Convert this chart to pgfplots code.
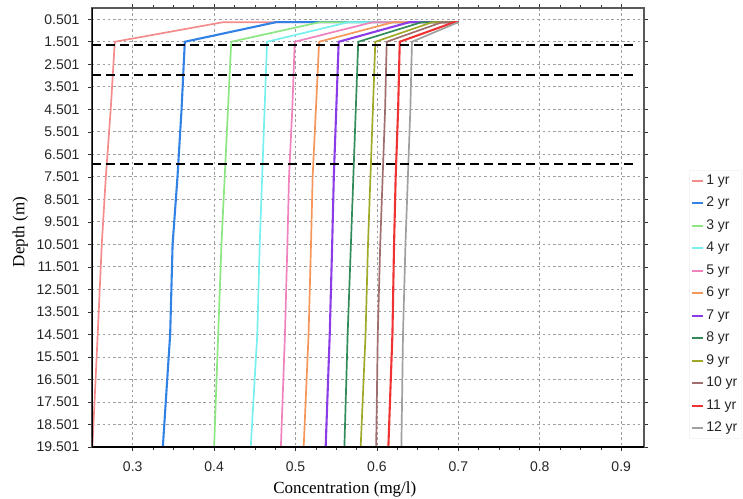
\documentclass[border=0pt]{standalone}
\usepackage{fontspec}
\setmainfont{Liberation Sans}
\newfontfamily\timesf{Liberation Serif}
\usepackage{pgfplots}
\pgfplotsset{compat=1.18}
\definecolor{c1}{RGB}{245,140,140}
\definecolor{c2}{RGB}{50,130,230}
\definecolor{c3}{RGB}{140,230,130}
\definecolor{c4}{RGB}{120,240,240}
\definecolor{c5}{RGB}{240,130,190}
\definecolor{c6}{RGB}{245,150,90}
\definecolor{c7}{RGB}{140,60,230}
\definecolor{c8}{RGB}{50,140,90}
\definecolor{c9}{RGB}{160,170,40}
\definecolor{c10}{RGB}{160,110,110}
\definecolor{c11}{RGB}{240,50,50}
\definecolor{c12}{RGB}{160,160,160}
\begin{document}
\begin{tikzpicture}
\begin{axis}[
  at={(0,0)}, anchor=south west,
  scale only axis, width=552bp, height=439bp,
  xmin=0.25, xmax=0.928, ymin=0, ymax=19.501,
  y dir=reverse,
  /pgf/number format/assume math mode=true,
  xtick={0.3,0.4,0.5,0.6,0.7,0.8,0.9},
  xticklabels={0.3,0.4,0.5,0.6,0.7,0.8,0.9},
  minor x tick num=3,
  ytick={0.501,1.501,2.501,3.501,4.501,5.501,6.501,7.501,8.501,9.501,10.501,11.501,12.501,13.501,14.501,15.501,16.501,17.501,18.501,19.501},
  yticklabels={0.501,1.501,2.501,3.501,4.501,5.501,6.501,7.501,8.501,9.501,10.501,11.501,12.501,13.501,14.501,15.501,16.501,17.501,18.501,19.501},
  tick align=outside,
  major tick length=4bp, minor tick length=3bp,
  every tick/.style={black!80, line width=0.6bp},
  ticklabel style={font=\fontsize{14bp}{16bp}\selectfont, text=black!85},
  xticklabel style={yshift=-7bp},
  yticklabel style={xshift=-5bp},
  grid=major,
  major grid style={gray!75, dash pattern=on 2.5bp off 2.8bp, line width=0.9bp},
  axis line style={black!65, line width=1.2bp},
  xlabel={\timesf Concentration (mg/l)},
  ylabel={\timesf Depth (m)},
  label style={font=\fontsize{17bp}{19bp}\selectfont},
  xlabel style={at={(axis description cs:0.458,-0.107)}, anchor=base},
  ylabel style={at={(axis description cs:-0.130,0.49)}, anchor=center, rotate=0},
  legend style={at={(axis description cs:1.082,0.631)}, anchor=north west,
    draw=gray!8, fill=white, font=\fontsize{14bp}{16bp}\selectfont,
    row sep=5.5bp, inner sep=2bp,
    nodes={text height=10bp, text depth=3bp, inner sep=2bp, text=black!85}},
  legend cell align=left,
  legend image code/.code={\draw[#1, line width=1.8bp] (0bp,0bp) -- (11bp,0bp);},
  every axis plot/.append style={line width=1.7bp},
]
\addplot[c1, line width=1.7bp] coordinates {(0.70,0.63) (0.411,0.63) (0.278,1.5) (0.273,4.5) (0.267,7.5) (0.262,10.5) (0.257,14.5) (0.2505,19.501)};
\addplot[c2, line width=2.1bp] coordinates {(0.70,0.63) (0.476,0.63) (0.364,1.5) (0.360,4.5) (0.355,7.5) (0.349,10.5) (0.346,14.5) (0.337,19.501)};
\addplot[c3, line width=1.7bp] coordinates {(0.70,0.63) (0.530,0.63) (0.421,1.5) (0.417,4.5) (0.413,7.5) (0.409,10.5) (0.405,14.5) (0.400,19.501)};
\addplot[c4, line width=1.7bp] coordinates {(0.70,0.63) (0.565,0.63) (0.465,1.5) (0.462,4.5) (0.459,7.5) (0.456,10.5) (0.453,14.5) (0.445,19.501)};
\addplot[c5, line width=1.7bp] coordinates {(0.70,0.63) (0.595,0.63) (0.499,1.5) (0.496,4.5) (0.492,7.5) (0.490,10.5) (0.487,14.5) (0.482,19.501)};
\addplot[c6, line width=1.7bp] coordinates {(0.70,0.63) (0.620,0.63) (0.529,1.5) (0.525,4.5) (0.521,7.5) (0.519,10.5) (0.516,14.5) (0.510,19.501)};
\addplot[c7, line width=2.1bp] coordinates {(0.70,0.63) (0.640,0.63) (0.553,1.5) (0.550,4.5) (0.547,7.5) (0.545,10.5) (0.542,14.5) (0.537,19.501)};
\addplot[c8, line width=1.7bp] coordinates {(0.70,0.63) (0.655,0.63) (0.577,1.5) (0.574,4.5) (0.571,7.5) (0.568,10.5) (0.564,14.5) (0.560,19.501)};
\addplot[c9, line width=1.7bp] coordinates {(0.70,0.63) (0.668,0.63) (0.598,1.5) (0.595,4.5) (0.592,7.5) (0.589,10.5) (0.586,14.5) (0.580,19.501)};
\addplot[c10, line width=1.7bp] coordinates {(0.70,0.63) (0.680,0.63) (0.612,1.5) (0.610,4.5) (0.607,7.5) (0.604,10.5) (0.601,14.5) (0.599,19.501)};
\addplot[c11, line width=2.1bp] coordinates {(0.70,0.63) (0.695,0.63) (0.628,1.5) (0.626,4.5) (0.623,7.5) (0.621,10.5) (0.619,14.5) (0.614,19.501)};
\addplot[c12, line width=1.7bp] coordinates {(0.70,0.63) (0.700,0.63) (0.643,1.5) (0.641,4.5) (0.638,7.5) (0.635,10.5) (0.632,14.5) (0.630,19.501)};
\legend{1 yr,2 yr,3 yr,4 yr,5 yr,6 yr,7 yr,8 yr,9 yr,10 yr,11 yr,12 yr}
\addplot[black, line width=2bp, dash pattern=on 9bp off 5bp, forget plot] coordinates {(0.25,1.66) (0.92,1.66)};
\addplot[black, line width=2bp, dash pattern=on 9bp off 5bp, forget plot] coordinates {(0.25,2.99) (0.92,2.99)};
\addplot[black, line width=2bp, dash pattern=on 9bp off 5bp, forget plot] coordinates {(0.25,6.95) (0.92,6.95)};
\draw[black, line width=2.6bp] (axis description cs:0,1) -- (axis description cs:0,0) -- (axis description cs:1,0);
\end{axis}
\pgfresetboundingbox
\useasboundingbox (-92bp,-52bp) rectangle (651bp,447bp);
\end{tikzpicture}
\end{document}
